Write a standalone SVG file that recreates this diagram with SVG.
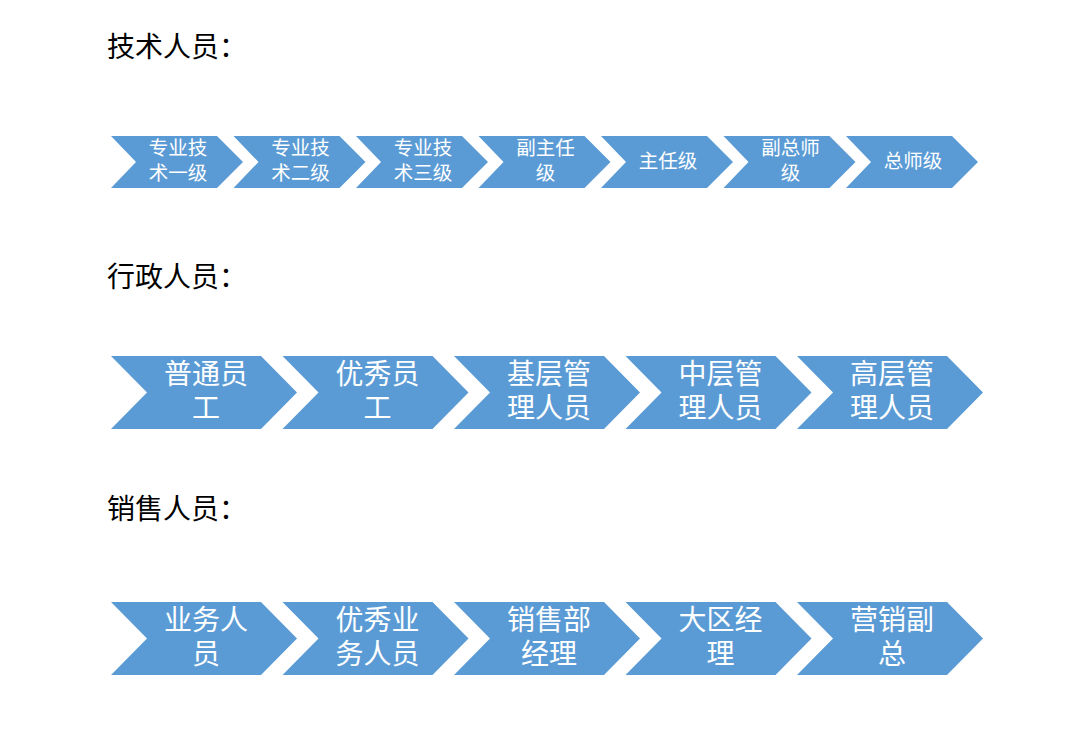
<svg xmlns="http://www.w3.org/2000/svg" width="1089" height="732" viewBox="0 0 1089 732">
<style>
.bg{fill:#ffffff}
.chev{fill:#5B9BD5}
.title{font-family:"Noto Sans CJK SC","Noto Sans",sans-serif;font-size:28px;fill:#000000}
.t1{font-family:"Noto Sans CJK SC","Noto Sans",sans-serif;font-size:19.5px;fill:#ffffff;text-anchor:middle}
.t2{font-family:"Noto Sans CJK SC","Noto Sans",sans-serif;font-size:28px;fill:#ffffff;text-anchor:middle}
</style>
<defs>
<path id="c1" d="M0,0 H106 L132,26 L106,52 H0 L25,26 Z"/>
<path id="c2" d="M0,0 H150 L186,36.5 L150,73 H0 L36,36.5 Z"/>
</defs>
<rect class="bg" x="0" y="0" width="1089" height="732"/>
<text class="title" x="107" y="57">技术人员：</text>
<text class="title" x="107" y="287">行政人员：</text>
<text class="title" x="107" y="519">销售人员：</text>
<g id="row1">
<g id="n1-1"><use href="#c1" class="chev" x="111" y="136"/><text class="t1" x="178" y="155">专业技<tspan x="178" dy="24.5">术一级</tspan></text></g>
<g id="n1-2"><use href="#c1" class="chev" x="233.5" y="136"/><text class="t1" x="300.5" y="155">专业技<tspan x="300.5" dy="24.5">术二级</tspan></text></g>
<g id="n1-3"><use href="#c1" class="chev" x="356" y="136"/><text class="t1" x="423" y="155">专业技<tspan x="423" dy="24.5">术三级</tspan></text></g>
<g id="n1-4"><use href="#c1" class="chev" x="478.5" y="136"/><text class="t1" x="545.5" y="155">副主任<tspan x="545.5" dy="24.5">级</tspan></text></g>
<g id="n1-5"><use href="#c1" class="chev" x="601" y="136"/><text class="t1" x="668" y="168">主任级</text></g>
<g id="n1-6"><use href="#c1" class="chev" x="723.5" y="136"/><text class="t1" x="790.5" y="155">副总师<tspan x="790.5" dy="24.5">级</tspan></text></g>
<g id="n1-7"><use href="#c1" class="chev" x="846" y="136"/><text class="t1" x="913" y="168">总师级</text></g>
</g>
<g id="row2">
<g id="n2-1"><use href="#c2" class="chev" x="111" y="356"/><text class="t2" x="206" y="384">普通员<tspan x="206" dy="34">工</tspan></text></g>
<g id="n2-2"><use href="#c2" class="chev" x="282.5" y="356"/><text class="t2" x="377.5" y="384">优秀员<tspan x="377.5" dy="34">工</tspan></text></g>
<g id="n2-3"><use href="#c2" class="chev" x="454" y="356"/><text class="t2" x="549" y="384">基层管<tspan x="549" dy="34">理人员</tspan></text></g>
<g id="n2-4"><use href="#c2" class="chev" x="625.5" y="356"/><text class="t2" x="720.5" y="384">中层管<tspan x="720.5" dy="34">理人员</tspan></text></g>
<g id="n2-5"><use href="#c2" class="chev" x="797" y="356"/><text class="t2" x="892" y="384">高层管<tspan x="892" dy="34">理人员</tspan></text></g>
</g>
<g id="row3">
<g id="n3-1"><use href="#c2" class="chev" x="111" y="602"/><text class="t2" x="206" y="630">业务人<tspan x="206" dy="34">员</tspan></text></g>
<g id="n3-2"><use href="#c2" class="chev" x="282.5" y="602"/><text class="t2" x="377.5" y="630">优秀业<tspan x="377.5" dy="34">务人员</tspan></text></g>
<g id="n3-3"><use href="#c2" class="chev" x="454" y="602"/><text class="t2" x="549" y="630">销售部<tspan x="549" dy="34">经理</tspan></text></g>
<g id="n3-4"><use href="#c2" class="chev" x="625.5" y="602"/><text class="t2" x="720.5" y="630">大区经<tspan x="720.5" dy="34">理</tspan></text></g>
<g id="n3-5"><use href="#c2" class="chev" x="797" y="602"/><text class="t2" x="892" y="630">营销副<tspan x="892" dy="34">总</tspan></text></g>
</g>
<g id="connectors"></g>
</svg>
